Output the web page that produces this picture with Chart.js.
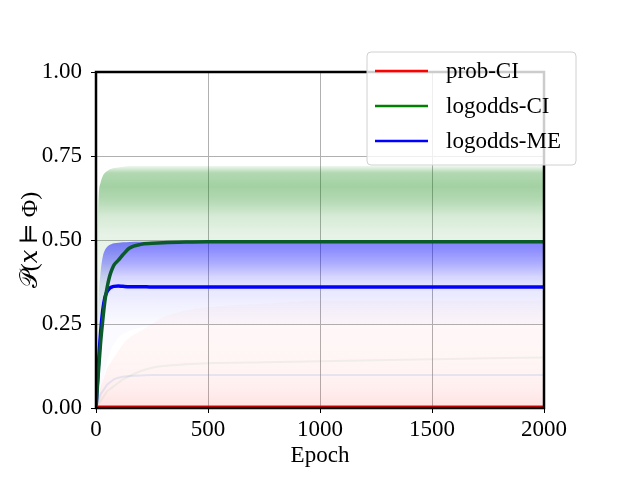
<!DOCTYPE html>
<html>
<head>
<meta charset="utf-8">
<script src="https://cdn.jsdelivr.net/npm/chart.js@4/dist/chart.umd.min.js"></script>
<style>
  html, body { margin: 0; padding: 0; background: #fff; }
  #wrap { width: 640px; height: 480px; }
</style>
</head>
<body>
<div id="wrap"><canvas id="chart" width="640" height="480"></canvas></div>
<script>
// epochs sampled along the x axis
const epochs = [0, 10, 20, 30, 40, 50, 60, 70, 80, 100, 120, 150, 200, 250, 300, 400, 500, 750, 1000, 1250, 1500, 1750, 2000];

// mean curves
const probCI     = [0.003, 0.003, 0.003, 0.003, 0.003, 0.003, 0.003, 0.003, 0.003, 0.003, 0.003, 0.003, 0.003, 0.003, 0.003, 0.003, 0.003, 0.003, 0.003, 0.003, 0.003, 0.003, 0.003];
const logoddsCI  = [0, 0.10, 0.19, 0.26, 0.32, 0.36, 0.39, 0.41, 0.425, 0.44, 0.456, 0.476, 0.487, 0.490, 0.492, 0.494, 0.495, 0.495, 0.495, 0.495, 0.495, 0.495, 0.495];
const logoddsME  = [0, 0.12, 0.22, 0.29, 0.33, 0.347, 0.356, 0.360, 0.362, 0.363, 0.362, 0.361, 0.361, 0.360, 0.360, 0.360, 0.360, 0.360, 0.360, 0.360, 0.360, 0.360, 0.360];

// spread of the individual runs (upper / lower envelopes)
const greenHi  = [0, 0.60, 0.67, 0.69, 0.70, 0.705, 0.71, 0.712, 0.714, 0.716, 0.718, 0.72, 0.72, 0.72, 0.72, 0.72, 0.72, 0.72, 0.72, 0.72, 0.72, 0.72, 0.72];
const blueHi   = [0, 0.30, 0.40, 0.45, 0.47, 0.48, 0.485, 0.488, 0.49, 0.492, 0.493, 0.494, 0.495, 0.495, 0.495, 0.495, 0.495, 0.495, 0.495, 0.495, 0.495, 0.495, 0.495];
const blueLo   = [0, 0.02, 0.05, 0.08, 0.11, 0.14, 0.16, 0.18, 0.19, 0.21, 0.22, 0.23, 0.24, 0.245, 0.25, 0.25, 0.25, 0.25, 0.25, 0.25, 0.25, 0.25, 0.25];
const redHi    = [0, 0.03, 0.06, 0.08, 0.10, 0.12, 0.13, 0.14, 0.15, 0.17, 0.19, 0.21, 0.23, 0.25, 0.27, 0.29, 0.30, 0.31, 0.32, 0.32, 0.32, 0.32, 0.32];
const zeroLine = [0, 0, 0, 0, 0, 0, 0, 0, 0, 0, 0, 0, 0, 0, 0, 0, 0, 0, 0, 0, 0, 0, 0];
const paleBlue = [0, 0.02, 0.04, 0.05, 0.06, 0.07, 0.075, 0.08, 0.085, 0.09, 0.093, 0.095, 0.097, 0.098, 0.098, 0.098, 0.098, 0.098, 0.098, 0.098, 0.098, 0.098, 0.098];
const paleGreen = [0, 0.01, 0.02, 0.03, 0.04, 0.05, 0.055, 0.06, 0.065, 0.075, 0.085, 0.095, 0.11, 0.12, 0.125, 0.13, 0.133, 0.136, 0.139, 0.142, 0.145, 0.148, 0.15];

const xTicks = [0, 500, 1000, 1500, 2000];
const yTicks = [0, 0.25, 0.5, 0.75, 1];

const seriesNames = ['prob-CI', 'logodds-CI', 'logodds-ME'];
const legendColors = ['#ff0000', '#008000', '#0000ff'];

const FONT = "'Liberation Serif', 'DejaVu Serif', 'DejaVu Sans', serif";

function pts(arr) {
    return epochs.map((e, i) => ({ x: e, y: arr[i] }));
}

// vertical shading: stops are [y value, alpha]
function shade(rgb, stops) {
    return ctx => {
        const chart = ctx.chart;
        if (!chart.chartArea) return 'rgba(0,0,0,0)';
        const y = chart.scales.y;
        const g = chart.ctx.createLinearGradient(0, y.getPixelForValue(1), 0, y.getPixelForValue(0));
        stops.forEach(s => g.addColorStop(1 - s[0], 'rgba(' + rgb + ',' + s[1] + ')'));
        return g;
    };
}

function line(label, arr, color, width, order) {
    return { label: label, data: pts(arr), borderColor: color, borderWidth: width, pointRadius: 0, fill: false, order: order, cubicInterpolationMode: 'monotone' };
}

// upper edge fills down to the next dataset
function bandTop(arr, color, order) {
    return { label: '', data: pts(arr), borderColor: 'rgba(0,0,0,0)', borderWidth: 0, pointRadius: 0, backgroundColor: color, fill: '+1', order: order, cubicInterpolationMode: 'monotone' };
}
function bandBottom(arr, order) {
    return { label: '', data: pts(arr), borderColor: 'rgba(0,0,0,0)', borderWidth: 0, pointRadius: 0, fill: false, order: order, cubicInterpolationMode: 'monotone' };
}

const greenShade = shade('0,128,0', [[1, 0], [0.725, 0.02], [0.715, 0.12], [0.70, 0.30], [0.66, 0.36], [0.62, 0.30], [0.57, 0.16], [0.52, 0.10], [0.45, 0.08], [0, 0.08]]);
const blueShade  = shade('0,0,255', [[1, 0], [0.50, 0.50], [0.47, 0.44], [0.43, 0.32], [0.39, 0.16], [0.36, 0.10], [0.30, 0.05], [0.25, 0.02], [0, 0.02]]);
const redShade   = shade('255,50,50', [[1, 0], [0.33, 0.02], [0.25, 0.035], [0.12, 0.05], [0.06, 0.08], [0.02, 0.12], [0, 0.14]]);

const datasets = [
    line(seriesNames[0], probCI, '#ff0000', 3, 1),
    line(seriesNames[1], logoddsCI, '#0b5a2c', 3.5, 2),
    line(seriesNames[2], logoddsME, '#0000ff', 3.5, 3),
    // faint envelopes of the single runs
    bandTop(redHi, redShade, 30), bandBottom(zeroLine, 30),
    line('', paleBlue, 'rgba(100,140,220,0.16)', 2, 27),
    line('', paleGreen, 'rgba(60,150,90,0.08)', 2, 26),
    bandTop(greenHi, greenShade, 25), bandBottom(logoddsCI, 25),
    bandTop(blueHi, blueShade, 22), bandBottom(blueLo, 22)
];

// thick black box round the plot area
const frame = {
    id: 'frame',
    afterDatasetsDraw(chart) {
        const a = chart.chartArea, c = chart.ctx;
        c.save();
        c.strokeStyle = '#000';
        c.lineWidth = 2.5;
        c.strokeRect(a.left, a.top, a.right - a.left, a.bottom - a.top);
        c.restore();
    }
};

// legend box in the upper right, overlapping the frame
const legendBox = {
    id: 'legendBox',
    afterDraw(chart) {
        const c = chart.ctx;
        const x = 367, y = 52, w = 209, h = 113, r = 4;
        c.save();
        c.beginPath();
        c.roundRect(x, y, w, h, r);
        c.fillStyle = 'rgba(255,255,255,0.8)';
        c.fill();
        c.strokeStyle = '#d0d0d0';
        c.lineWidth = 1;
        c.stroke();
        c.font = '23px ' + FONT;
        c.textBaseline = 'middle';
        seriesNames.forEach((name, i) => {
            const ly = 71 + i * 35;
            c.beginPath();
            c.moveTo(375, ly);
            c.lineTo(428, ly);
            c.strokeStyle = legendColors[i];
            c.lineWidth = 2.5;
            c.stroke();
            c.fillStyle = '#000';
            c.fillText(name, 446, ly + 1);
        });
        c.restore();
    }
};

new Chart(document.getElementById('chart'), {
    type: 'line',
    data: { datasets: datasets },
    plugins: [frame, legendBox],
    options: {
        responsive: false,
        animation: false,
        layout: { padding: { top: 72, right: 96, left: 0, bottom: 0 } },
        plugins: { legend: { display: false }, tooltip: { enabled: false } },
        scales: {
            x: {
                type: 'linear', min: 0, max: 2000,
                afterFit: s => { s.height = 72; },
                afterBuildTicks: s => { s.ticks = xTicks.map(v => ({ value: v })); },
                ticks: { color: '#000', font: { family: FONT, size: 23 }, padding: 3, maxRotation: 0, callback: v => String(v) },
                grid: { color: '#b0b0b0', lineWidth: 1, tickColor: '#000', tickLength: 5 },
                border: { display: false },
                title: { display: true, text: 'Epoch', color: '#000', font: { family: FONT, size: 23 }, padding: { top: 0, bottom: 10 } }
            },
            y: {
                min: 0, max: 1,
                afterFit: s => { s.width = 96; },
                afterBuildTicks: s => { s.ticks = yTicks.map(v => ({ value: v })); },
                ticks: { color: '#000', font: { family: FONT, size: 23 }, padding: 9, callback: v => v.toFixed(2) },
                grid: { color: '#b0b0b0', lineWidth: 1, tickColor: '#000', tickLength: 5 },
                border: { display: false },
                title: { display: true, text: '𝒫(𝑥 ⊨ Φ)', color: '#000', font: { family: FONT, size: 24 }, padding: { top: 16, bottom: 0 } }
            }
        }
    }
});
</script>
</body>
</html>
